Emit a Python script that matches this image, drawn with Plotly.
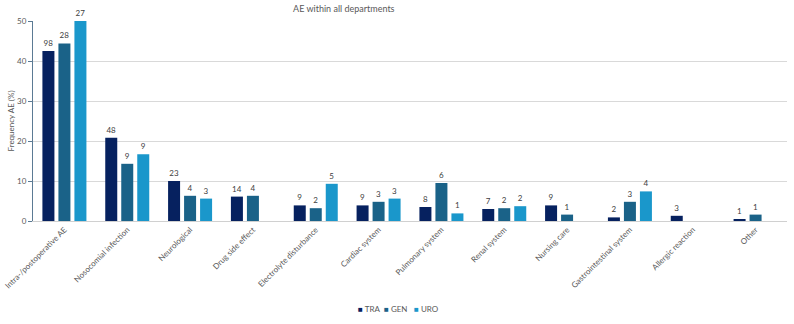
import plotly.graph_objects as go

categories = ["Intra-/postoperative AE", "Nosocomial infection", "Neurological", "Drug side effect",
              "Electrolyte disturbance", "Cardiac system", "Pulmonary system", "Renal system",
              "Nursing care", "Gastrointestinal system", "Allergic reaction", "Other"]

tra_pct = [42.5, 20.8, 10.0, 6.1, 3.9, 3.9, 3.5, 3.0, 3.9, 0.9, 1.3, 0.4]
gen_pct = [44.4, 14.3, 6.3, 6.3, 3.2, 4.8, 9.5, 3.2, 1.6, 4.8, None, 1.6]
uro_pct = [50.0, 16.7, 5.6, None, 9.3, 5.6, 1.9, 3.7, None, 7.4, None, None]

tra_n = [98, 48, 23, 14, 9, 9, 8, 7, 9, 2, 3, 1]
gen_n = [28, 9, 4, 4, 2, 3, 6, 2, 1, 3, None, 1]
uro_n = [27, 9, 3, None, 5, 3, 1, 2, None, 4, None, None]

series = [("TRA", tra_pct, tra_n, "#06215f"),
          ("GEN", gen_pct, gen_n, "#1a6288"),
          ("URO", uro_pct, uro_n, "#1a97cb")]

fig = go.Figure()
for name, vals, counts, color in series:
    fig.add_trace(go.Bar(
        name=name, x=categories, y=vals,
        text=[("" if c is None else str(c)) for c in counts],
        textposition="outside", cliponaxis=False,
        textfont=dict(size=8, color="#404040"),
        marker=dict(color=color, line=dict(width=0)),
        showlegend=False,
    ))

# compact legend like the reference
legend_x = [0.428, 0.463, 0.502]
for (name, _, _, color), lx in zip(series, legend_x):
    fig.add_annotation(
        xref="paper", yref="paper", x=lx, y=-0.44, xanchor="left", yanchor="middle",
        text=f"<span style='color:{color};font-size:8px'>■</span> {name}",
        showarrow=False, font=dict(size=8, color="#595959"),
    )

fig.update_layout(
    width=794, height=324,
    margin=dict(l=33, r=7, t=21, b=103, autoexpand=False),
    paper_bgcolor="white", plot_bgcolor="white",
    font=dict(family="Lato", size=8, color="#595959"),
    barmode="group", bargap=0.236, bargroupgap=0.25,
    title=dict(text="AE within all departments", x=0.433, xanchor="center",
               y=0.982, yanchor="top", font=dict(size=9, color="#595959")),
    showlegend=False,
)
fig.update_yaxes(range=[0, 50], dtick=10, showgrid=True, gridcolor="#d9d9d9", gridwidth=1,
                 showline=True, linecolor="#5b7a94", linewidth=1,
                 ticks="outside", ticklen=4, tickcolor="#5b7a94",
                 tickfont=dict(size=8, color="#595959"),
                 title=dict(text="Frequency AE (%)", font=dict(size=8, color="#595959"), standoff=1),
                 zeroline=False, automargin=False)
fig.update_xaxes(showline=True, linecolor="#d0d0d0", linewidth=1, tickangle=-45,
                 tickfont=dict(size=8, color="#595959"), ticks="", showgrid=False,
                 automargin=False)

fig.write_html("out.html")
